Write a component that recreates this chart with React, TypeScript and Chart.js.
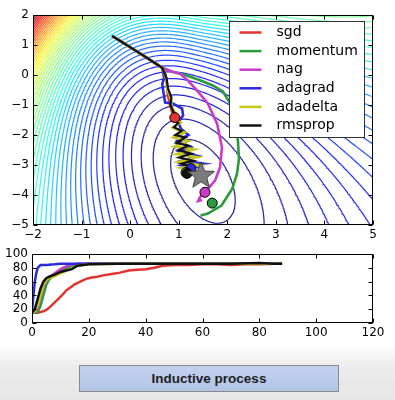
import React, { useEffect, useRef } from "react";
import { Chart, registerables } from "chart.js";
Chart.register(...registerables);

// ---------- legend / series ----------
const LABELS = ["sgd", "momentum", "nag", "adagrad", "adadelta", "rmsprop"];
const COLORS = ["#e2332e", "#2a9a3a", "#cc3acc", "#2a2ade", "#c6c61c", "#111111"];

// ---------- top panel: optimizer paths (parameter space) ----------
const COMMON_X = [-0.37, -0.05, 0.25, 0.5, 0.66];
const COMMON_Y = [1.3, 0.98, 0.67, 0.41, 0.24];

const SGD_X = [0.72, 0.75, 0.78, 0.84, 0.88, 0.92];
const SGD_Y = [0.05, -0.19, -0.69, -1.12, -1.3, -1.42];

const MOM_X = [0.85, 1.1, 1.4, 1.7, 1.91, 2.08, 2.18, 2.22, 2.24, 2.2, 2.1, 1.88, 1.6, 1.45];
const MOM_Y = [0.12, 0.02, -0.15, -0.35, -0.55, -1.0, -1.6, -2.2, -2.8, -3.3, -3.8, -4.35, -4.62, -4.68];

const NAG_X = [0.85, 1.03, 1.2, 1.38, 1.6, 1.79, 1.89, 1.85, 1.75, 1.58, 1.44, 1.4, 1.48];
const NAG_Y = [0.12, 0.04, -0.2, -0.52, -0.95, -1.62, -2.41, -3.08, -3.51, -3.84, -4.07, -4.2, -4.17];

const ADAGRAD_X = [0.7, 0.66, 0.68, 0.72, 0.88, 1.07, 1.09, 0.99, 1.05, 1.2, 0.97, 1.25, 1.02, 1.4, 1.08, 1.5, 1.12, 1.35, 1.25];
const ADAGRAD_Y = [-0.1, -0.3, -0.52, -0.92, -0.95, -1.12, -1.35, -1.58, -1.8, -2.0, -2.2, -2.4, -2.55, -2.7, -2.85, -2.95, -3.02, -3.08, -3.12];

const ADADELTA_X = [0.74, 0.77, 0.84, 0.86, 0.95, 0.85, 1.04, 0.88, 1.12, 0.9, 1.2, 0.92, 1.32, 0.96, 1.38, 1.0, 1.42, 1.06, 1.35, 1.15];
const ADADELTA_Y = [-0.1, -0.5, -0.8, -1.1, -1.3, -1.42, -1.58, -1.76, -1.92, -2.08, -2.2, -2.38, -2.48, -2.64, -2.74, -2.9, -3.0, -3.1, -3.2, -3.25];

const RMSPROP_X = [0.75, 0.78, 0.85, 0.83, 0.9, 0.86, 0.99, 0.9, 1.06, 0.93, 1.14, 0.95, 1.2, 0.99, 1.26, 1.01, 1.3, 1.05, 1.27, 1.1, 1.17];
const RMSPROP_Y = [-0.1, -0.45, -0.75, -1.0, -1.25, -1.5, -1.6, -1.74, -1.86, -2.0, -2.08, -2.26, -2.36, -2.5, -2.62, -2.75, -2.86, -2.96, -3.06, -3.16, -3.28];

const END_X = [0.92, 1.69, 1.54, 1.25, 1.15, 1.17];
const END_Y = [-1.42, -4.27, -3.91, -3.12, -3.25, -3.28];
const MIN_X = [1.46];
const MIN_Y = [-3.36];

// loss surface (background contours)
const LOSS_CX = 1.44, LOSS_CY = -3.4, LOSS_SX = 0.4857, LOSS_SY = 0.3014;
const LOSS_A = 13.5, LOSS_B = 8.8, LOSS_C = 7.7;
const LOSS_UP = 0.4, LOSS_TWIST = 0.11, LOSS_RIGHT = 0.6;
const LEVEL_STEP = 1.65, LEVEL_OFFSET = -0.65;
const GRID_N = 150;
const CONTOUR_FADE = 0.15;

// ---------- bottom panel: accuracy vs iteration ----------
const ACC_SGD_X = [0, 2, 3, 4, 5, 6, 7, 8, 9, 10, 11, 12, 13, 14, 15, 17, 19, 21, 23, 25, 28, 31, 34, 37, 40, 43, 46, 50, 55, 60, 65, 70, 75, 80, 85, 88];
const ACC_SGD_Y = [15, 15, 16, 17, 19, 22, 26, 30, 34, 38, 42, 47, 50, 53, 56, 60, 64, 66, 67, 69, 71, 73, 76, 77, 78, 80, 83, 84, 84, 85, 85, 84, 85, 85, 86, 86];
const ACC_MOM_X = [0, 1, 2, 3, 4, 5, 6, 7, 8, 10, 12, 14, 16, 20, 30, 50, 70, 88];
const ACC_MOM_Y = [15, 15, 16, 25, 40, 55, 63, 67, 70, 75, 79, 83, 85, 86, 86, 86, 86, 86];
const ACC_NAG_X = [0, 1, 2, 3, 4, 5, 6, 8, 10, 12, 14, 16, 20, 30, 50, 70, 88];
const ACC_NAG_Y = [15, 16, 22, 38, 52, 62, 66, 72, 78, 82, 85, 86, 86, 86, 86, 86, 86];
const ACC_ADAGRAD_X = [0, 0.5, 1, 1.5, 2, 3, 5, 8, 10, 14, 18, 25, 40, 60, 80, 88];
const ACC_ADAGRAD_Y = [15, 40, 60, 72, 80, 84, 84, 85, 86, 86, 86, 86, 86, 86, 86, 86];
const ACC_ADADELTA_X = [0, 1, 2, 3, 4, 5, 6, 8, 10, 12, 14, 16, 20, 30, 50, 70, 88];
const ACC_ADADELTA_Y = [15, 17, 25, 40, 55, 62, 65, 68, 72, 76, 79, 83, 85, 86, 86, 86, 86];
const ACC_RMSPROP_X = [0, 1, 2, 3, 4, 5, 6, 8, 10, 12, 14, 16, 18, 20, 30, 40, 50, 60, 70, 80, 85, 88];
const ACC_RMSPROP_Y = [15, 20, 35, 50, 60, 65, 67, 70, 74, 76, 78, 83, 84, 85, 86, 86, 86, 86, 86, 87, 86, 86];

// ---------- helpers ----------
const zip = (xs: number[], ys: number[]) => xs.map((x, i) => ({ x, y: ys[i] }));

function loss(x: number, y: number): number {
  const p = (x - LOSS_CX) * LOSS_SX;
  const q = (y - LOSS_CY) * LOSS_SY;
  const base = LOSS_A * p * p + LOSS_B * p * q + LOSS_C * q * q;
  const sp = (p + Math.sqrt(p * p + 0.04)) / 2;
  return base * Math.exp(LOSS_UP * q - LOSS_TWIST * p * q - LOSS_RIGHT * sp);
}

function jet(t: number): string {
  const seg = (pts: number[][], v: number) => {
    for (let i = 1; i < pts.length; i++) {
      if (v <= pts[i][0]) {
        const [x0, y0] = pts[i - 1];
        const [x1, y1] = pts[i];
        return y0 + ((y1 - y0) * (v - x0)) / (x1 - x0);
      }
    }
    return pts[pts.length - 1][1];
  };
  const r = seg([[0, 0], [0.35, 0], [0.66, 1], [0.89, 1], [1, 0.5]], t);
  const g = seg([[0, 0], [0.125, 0], [0.375, 1], [0.64, 1], [0.91, 0], [1, 0]], t);
  const b = seg([[0, 0.5], [0.11, 1], [0.34, 1], [0.65, 0], [1, 0]], t);
  const f = (c: number) => Math.round((c * (1 - CONTOUR_FADE) + CONTOUR_FADE) * 255);
  return `rgb(${f(r)},${f(g)},${f(b)})`;
}

function buildContours(xmin: number, xmax: number, ymin: number, ymax: number) {
  const xs: number[] = [];
  const ys: number[] = [];
  for (let i = 0; i <= GRID_N; i++) {
    xs.push(xmin + ((xmax - xmin) * i) / GRID_N);
    ys.push(ymin + ((ymax - ymin) * i) / GRID_N);
  }
  const field = ys.map((y) => xs.map((x) => loss(x, y)));
  let fmax = -Infinity;
  field.forEach((row) => row.forEach((v) => (fmax = Math.max(fmax, v))));
  const levels: number[] = [];
  for (let k = 1; ; k++) {
    const L = LEVEL_STEP * k + LEVEL_OFFSET;
    if (L > fmax) break;
    levels.push(L);
  }
  return levels.map((L, idx) => {
    const pts: { x: number; y: number | null }[] = [];
    for (let j = 0; j < GRID_N; j++) {
      for (let i = 0; i < GRID_N; i++) {
        const c = [
          [xs[i], ys[j], field[j][i]],
          [xs[i + 1], ys[j], field[j][i + 1]],
          [xs[i + 1], ys[j + 1], field[j + 1][i + 1]],
          [xs[i], ys[j + 1], field[j + 1][i]],
        ];
        const e: ({ x: number; y: number } | null)[] = [];
        let count = 0;
        for (let k = 0; k < 4; k++) {
          const a = c[k], b = c[(k + 1) % 4];
          if (a[2] < L !== b[2] < L) {
            const t = (L - a[2]) / (b[2] - a[2]);
            e.push({ x: a[0] + (b[0] - a[0]) * t, y: a[1] + (b[1] - a[1]) * t });
            count++;
          } else e.push(null);
        }
        if (count === 2) {
          const s = e.filter((v) => v) as { x: number; y: number }[];
          pts.push(s[0], s[1], { x: s[1].x, y: null });
        } else if (count === 4) {
          const center = (c[0][2] + c[1][2] + c[2][2] + c[3][2]) / 4;
          const e0 = e[0]!, e1 = e[1]!, e2 = e[2]!, e3 = e[3]!;
          if (center < L === c[0][2] < L) {
            pts.push(e0, e1, { x: e1.x, y: null }, e2, e3, { x: e3.x, y: null });
          } else {
            pts.push(e3, e0, { x: e0.x, y: null }, e1, e2, { x: e2.x, y: null });
          }
        }
      }
    }
    return { data: pts, color: jet(levels.length > 1 ? idx / (levels.length - 1) : 0) };
  });
}

function makeStar(): HTMLCanvasElement {
  const c = document.createElement("canvas");
  c.width = 32;
  c.height = 32;
  const ctx = c.getContext("2d")!;
  ctx.beginPath();
  for (let i = 0; i < 10; i++) {
    const r = i % 2 === 0 ? 14 : 6;
    const a = -Math.PI / 2 + (i * Math.PI) / 5;
    const x = 16 + r * Math.cos(a);
    const y = 16 + r * Math.sin(a);
    if (i === 0) ctx.moveTo(x, y);
    else ctx.lineTo(x, y);
  }
  ctx.closePath();
  ctx.fillStyle = "#7c7c7c";
  ctx.fill();
  ctx.strokeStyle = "#3a3a3a";
  ctx.lineWidth = 1;
  ctx.stroke();
  return c;
}

const minusFmt = (v: any) => String(v).replace("-", "\u2212");
const TICK_FONT = { family: "DejaVu Sans", size: 12 };

const framePlugin = {
  id: "frameTicks",
  afterDatasetsDraw(chart: any) {
    const { ctx, chartArea: a, scales } = chart;
    ctx.save();
    ctx.strokeStyle = "#000";
    ctx.lineWidth = 1;
    const L = Math.round(a.left) + 0.5, R = Math.round(a.right) - 0.5;
    const T = Math.round(a.top) + 0.5, B = Math.round(a.bottom) - 0.5;
    ctx.strokeRect(L, T, R - L, B - T);
    ctx.beginPath();
    scales.x.ticks.forEach((t: any) => {
      const px = Math.round(scales.x.getPixelForValue(t.value)) + 0.5;
      ctx.moveTo(px, B);
      ctx.lineTo(px, B - 4);
      ctx.moveTo(px, T);
      ctx.lineTo(px, T + 4);
    });
    scales.y.ticks.forEach((t: any) => {
      const py = Math.round(scales.y.getPixelForValue(t.value)) + 0.5;
      ctx.moveTo(L, py);
      ctx.lineTo(L + 4, py);
      ctx.moveTo(R, py);
      ctx.lineTo(R - 4, py);
    });
    ctx.stroke();
    ctx.restore();
  },
};

const legendPlugin = {
  id: "boxLegend",
  afterDraw(chart: any) {
    const { ctx, chartArea: a } = chart;
    const x0 = Math.round(a.right) - 143.5;
    const y0 = Math.round(a.top) + 6.5;
    const w = 135, h = 116;
    ctx.save();
    ctx.fillStyle = "#fff";
    ctx.fillRect(x0, y0, w, h);
    ctx.strokeStyle = "#333";
    ctx.lineWidth = 1;
    ctx.strokeRect(x0, y0, w, h);
    ctx.font = "14px 'DejaVu Sans'";
    ctx.textBaseline = "middle";
    LABELS.forEach((lab, i) => {
      const yy = y0 + 11 + i * 18.6;
      ctx.strokeStyle = COLORS[i];
      ctx.lineWidth = 2.5;
      ctx.beginPath();
      ctx.moveTo(x0 + 10, yy);
      ctx.lineTo(x0 + 32, yy);
      ctx.stroke();
      ctx.fillStyle = "#000";
      ctx.fillText(lab, x0 + 47, yy);
    });
    ctx.restore();
  },
};

export default function App() {
  const topRef = useRef<HTMLCanvasElement>(null);
  const botRef = useRef<HTMLCanvasElement>(null);

  useEffect(() => {
    const contours = buildContours(-2, 5, -5, 2);
    const paths = [
      [SGD_X, SGD_Y],
      [MOM_X, MOM_Y],
      [NAG_X, NAG_Y],
      [ADAGRAD_X, ADAGRAD_Y],
      [ADADELTA_X, ADADELTA_Y],
      [RMSPROP_X, RMSPROP_Y],
    ];
    const pathSets = paths.map(([xs, ys], i) => ({
      label: LABELS[i],
      data: zip(COMMON_X.concat(xs), COMMON_Y.concat(ys)),
      showLine: true,
      borderColor: COLORS[i],
      borderWidth: i === 5 ? 2.2 : 2.6,
      pointRadius: 0,
      order: 7 - i,
    }));
    const endSet = {
      label: "end",
      data: zip(END_X, END_Y),
      pointRadius: 5,
      pointBackgroundColor: COLORS,
      pointBorderColor: "#000",
      pointBorderWidth: 1,
      showLine: false,
      order: 1,
    };
    const starSet = {
      label: "min",
      data: zip(MIN_X, MIN_Y),
      pointStyle: makeStar(),
      pointRadius: 14,
      showLine: false,
      order: 0,
    };
    const contourSets = contours.map((c, i) => ({
      label: "c" + i,
      data: c.data,
      showLine: true,
      spanGaps: false,
      borderColor: c.color,
      borderWidth: 1.2,
      pointRadius: 0,
      order: 100 + i,
    }));

    const top = new Chart(topRef.current!, {
      type: "scatter",
      data: { datasets: [starSet, endSet, ...pathSets, ...contourSets] as any },
      options: {
        animation: false,
        responsive: false,
        devicePixelRatio: 1,
        events: [],
        layout: { padding: { top: 14, right: 22, left: 0, bottom: 0 } },
        plugins: { legend: { display: false }, tooltip: { enabled: false } },
        scales: {
          x: {
            type: "linear",
            min: -2,
            max: 5,
            ticks: { stepSize: 1, autoSkip: false, maxRotation: 0, color: "#000", font: TICK_FONT, padding: 3, callback: minusFmt },
            grid: { display: false, drawTicks: false },
            border: { display: false },
            afterFit: (s: any) => {
              s.height = 20;
            },
          },
          y: {
            type: "linear",
            min: -5,
            max: 2,
            ticks: { stepSize: 1, autoSkip: false, color: "#000", font: TICK_FONT, padding: 4, callback: minusFmt },
            grid: { display: false, drawTicks: false },
            border: { display: false },
            afterFit: (s: any) => {
              s.width = 33;
            },
          },
        },
      } as any,
      plugins: [framePlugin, legendPlugin],
    });

    const acc = [
      [ACC_SGD_X, ACC_SGD_Y],
      [ACC_MOM_X, ACC_MOM_Y],
      [ACC_NAG_X, ACC_NAG_Y],
      [ACC_ADAGRAD_X, ACC_ADAGRAD_Y],
      [ACC_ADADELTA_X, ACC_ADADELTA_Y],
      [ACC_RMSPROP_X, ACC_RMSPROP_Y],
    ];
    const bot = new Chart(botRef.current!, {
      type: "scatter",
      data: {
        datasets: acc.map(([xs, ys], i) => ({
          label: LABELS[i],
          data: zip(xs, ys),
          showLine: true,
          borderColor: COLORS[i],
          borderWidth: 2.5,
          pointRadius: 0,
          order: 7 - i,
        })) as any,
      },
      options: {
        animation: false,
        responsive: false,
        devicePixelRatio: 1,
        events: [],
        layout: { padding: { top: 14, right: 22, left: 0, bottom: 0 } },
        plugins: { legend: { display: false }, tooltip: { enabled: false } },
        scales: {
          x: {
            type: "linear",
            min: 0,
            max: 120,
            ticks: { stepSize: 20, autoSkip: false, maxRotation: 0, color: "#000", font: TICK_FONT, padding: 3 },
            grid: { display: false, drawTicks: false },
            border: { display: false },
            afterFit: (s: any) => {
              s.height = 19;
            },
          },
          y: {
            type: "linear",
            min: 0,
            max: 100,
            ticks: { stepSize: 20, autoSkip: false, color: "#000", font: TICK_FONT, padding: 4 },
            grid: { display: false, drawTicks: false },
            border: { display: false },
            afterFit: (s: any) => {
              s.width = 32;
            },
          },
        },
      } as any,
      plugins: [framePlugin],
    });

    return () => {
      top.destroy();
      bot.destroy();
    };
  }, []);

  return (
    <div
      style={{
        position: "fixed",
        left: 0,
        top: 0,
        width: 395,
        height: 400,
        overflow: "hidden",
        background: "linear-gradient(to bottom, #ffffff 0px, #ffffff 345px, #ebebeb 368px, #e6e6e6 400px)",
      }}
    >
      <canvas ref={topRef} width={395} height={245} style={{ position: "absolute", left: 0, top: 0, width: 395, height: 245 }} />
      <canvas ref={botRef} width={395} height={102} style={{ position: "absolute", left: 0, top: 240, width: 395, height: 102 }} />
      <div
        style={{
          position: "absolute",
          left: 79,
          top: 365,
          width: 260,
          height: 27,
          boxSizing: "border-box",
          border: "1px solid #8a8a8a",
          background: "linear-gradient(to bottom, #c2d1ee, #b3c5e7)",
          display: "flex",
          alignItems: "center",
          justifyContent: "center",
          fontFamily: "'Liberation Sans', Arial, sans-serif",
          fontWeight: "bold",
          fontSize: 13.5,
          color: "#1e1e1e",
        }}
      >
        Inductive process
      </div>
    </div>
  );
}
